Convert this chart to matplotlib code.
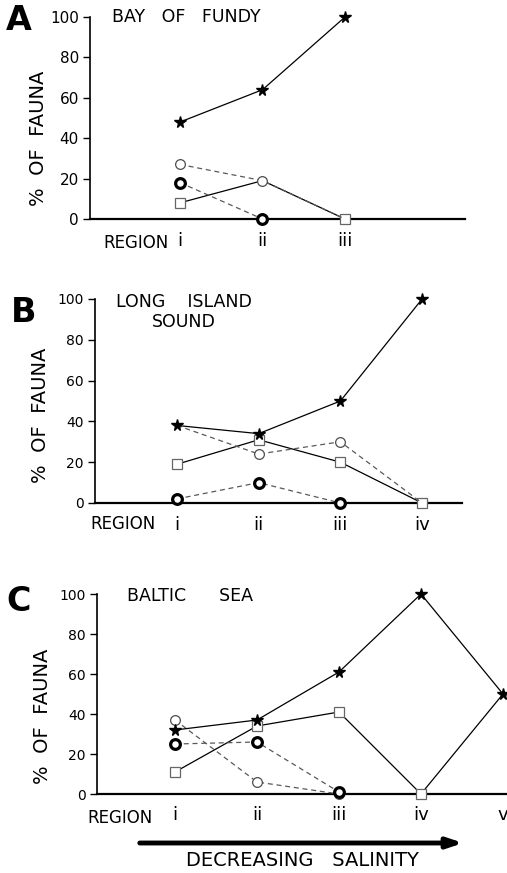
import matplotlib
matplotlib.use("Agg")
import matplotlib.pyplot as plt

plt.rcParams['font.family'] = ['DejaVu Sans']

# data (% of fauna per region)
regions_a = ['i', 'ii', 'iii']
a_star = [48, 64, 100]
a_open = [27, 19, 0]
a_bold = [18, 0]
a_square = [8, 19, 0]

regions_b = ['i', 'ii', 'iii', 'iv']
b_star = [38, 34, 50, 100]
b_open = [38, 24, 30, 0]
b_bold = [2, 10, 0]
b_square = [19, 31, 20, 0]

regions_c = ['i', 'ii', 'iii', 'iv', 'v']
c_star = [32, 37, 61, 100, 50]
c_open = [37, 6, 0]
c_bold = [25, 26, 1]
c_square = [11, 34, 41, 0, 50]

yticks = [0, 20, 40, 60, 80, 100]

W, H = 507, 873
fig = plt.figure(figsize=(W / 100, H / 100), dpi=100)


def px_axes(left, right, top, bottom):
    """ axes placed by pixel box """
    return fig.add_axes([left / W, 1 - bottom / H,
                         (right - left) / W, (bottom - top) / H])


def style_axes(ax, regions, x0_px, step_px, left, right, tick_size):
    ax.set_ylim(0, 100)
    ax.set_xlim(1 - (x0_px - left) / step_px, 1 + (right - x0_px) / step_px)
    for s in ['top', 'right']:
        ax.spines[s].set_visible(False)
    ax.spines['left'].set_linewidth(1.2)
    ax.spines['bottom'].set_linewidth(1.6)
    ax.set_yticks(yticks)
    ax.tick_params(axis='y', direction='out', length=5, width=1.0,
                   labelsize=tick_size, pad=3)
    ax.set_xticks(range(1, len(regions) + 1))
    ax.set_xticklabels(regions)
    ax.tick_params(axis='x', length=0, labelsize=13, pad=9)
    ax.set_ylabel('%  OF  FAUNA', fontsize=14)


def series(ax, vals, kind, markevery=None):
    x = list(range(1, len(vals) + 1))
    if kind == 'star':
        ax.plot(x, vals, color='k', lw=0.9, marker='*', ms=8.5,
                mfc='k', mec='k', clip_on=False, zorder=5,
                markevery=markevery)
    elif kind == 'open':
        ax.plot(x, vals, color='0.35', lw=0.9, ls=(0, (4, 3)), marker='o',
                ms=7, mfc='white', mec='0.3', mew=0.9, clip_on=False,
                zorder=3, markevery=markevery)
    elif kind == 'bold':
        ax.plot(x, vals, color='0.35', lw=0.9, ls=(0, (4, 3)), marker='o',
                ms=7, mfc='white', mec='k', mew=2.3, clip_on=False,
                zorder=4, markevery=markevery)
    elif kind == 'square':
        ax.plot(x, vals, color='k', lw=0.9, marker='s', ms=6.5,
                mfc='white', mec='0.4', mew=0.9, clip_on=False, zorder=3,
                markevery=markevery)


# A: Bay of Fundy
ax_a = px_axes(90, 465, 17, 219)
style_axes(ax_a, regions_a, 180, 82.5, 90, 465, 11)
series(ax_a, a_square, 'square', markevery=[0, 2])
series(ax_a, a_open, 'open', markevery=[0, 1])
series(ax_a, a_bold, 'bold')
series(ax_a, a_star, 'star')
ax_a.yaxis.set_label_coords(-0.112, 0.40)
fig.text(112 / W, 1 - 17 / H, 'BAY   OF   FUNDY', fontsize=12.5, va='center')
fig.text(103 / W, 1 - 243 / H, 'REGION', fontsize=12, va='center')
fig.text(6 / W, 1 - 30 / H, 'A', fontsize=24, fontweight='bold',
         va='baseline')

# B: Long Island Sound
ax_b = px_axes(95, 462, 299, 503)
style_axes(ax_b, regions_b, 177, 81.7, 95, 462, 10)
series(ax_b, b_square, 'square')
series(ax_b, b_open, 'open', markevery=[1, 2])
series(ax_b, b_bold, 'bold')
series(ax_b, b_star, 'star')
ax_b.yaxis.set_label_coords(-0.122, 0.43)
fig.text(184 / W, 1 - 312 / H, 'LONG    ISLAND\nSOUND', fontsize=12.5,
         va='center', ha='center', linespacing=1.1)
fig.text(90 / W, 1 - 524 / H, 'REGION', fontsize=12, va='center')
fig.text(11 / W, 1 - 322 / H, 'B', fontsize=24, fontweight='bold',
         va='baseline')

# C: Baltic Sea
ax_c = px_axes(97, 507, 594, 794)
style_axes(ax_c, regions_c, 175, 82, 97, 507, 10)
series(ax_c, c_square, 'square', markevery=[0, 1, 2, 3])
series(ax_c, c_open, 'open')
series(ax_c, c_bold, 'bold')
series(ax_c, c_star, 'star')
ax_c.yaxis.set_label_coords(-0.11, 0.39)
fig.text(127 / W, 1 - 596 / H, 'BALTIC      SEA', fontsize=12.5, va='center')
fig.text(87 / W, 1 - 818 / H, 'REGION', fontsize=12, va='center')
fig.text(6 / W, 1 - 611 / H, 'C', fontsize=24, fontweight='bold',
         va='baseline')

# salinity arrow
fig.add_artist(matplotlib.patches.FancyArrowPatch(
    (137 / W, 1 - 843 / H), (466 / W, 1 - 843 / H),
    transform=fig.transFigure, arrowstyle='-|>,head_length=9,head_width=3',
    lw=3.5, color='k', mutation_scale=1))
fig.text(302 / W, 1 - 861 / H, 'DECREASING   SALINITY', fontsize=14,
         ha='center', va='center')

fig.savefig('out.png', dpi=100)
